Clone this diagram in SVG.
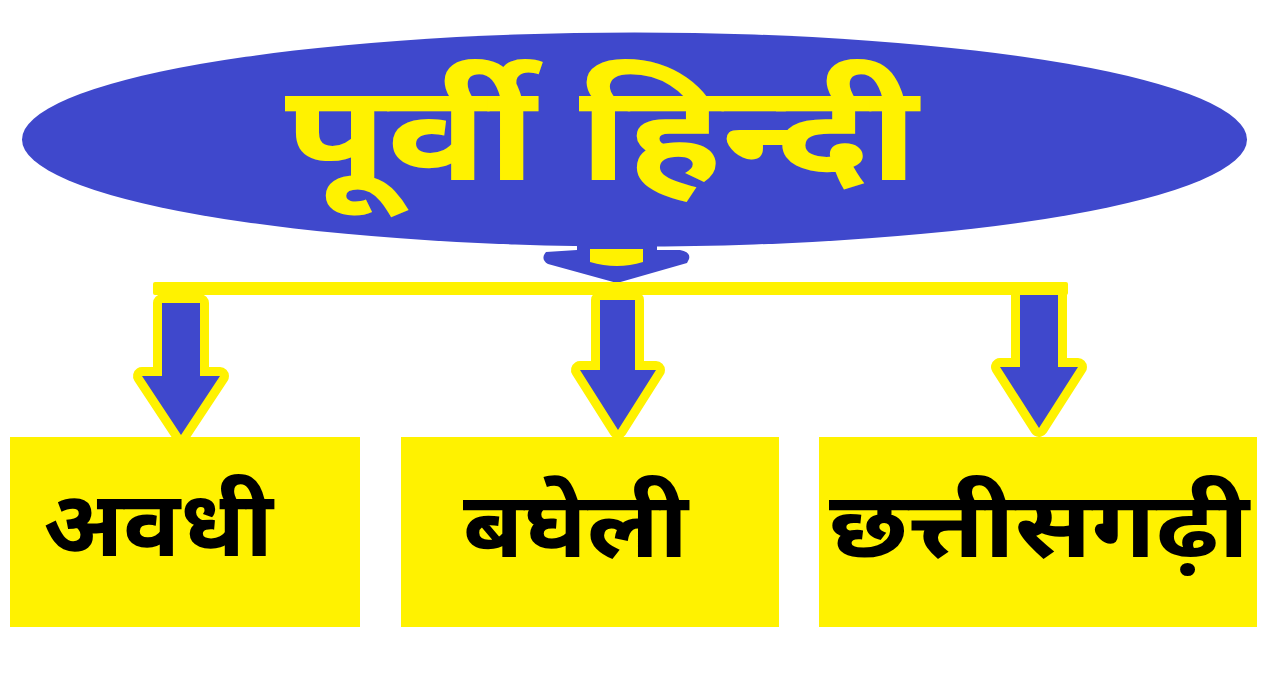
<svg xmlns="http://www.w3.org/2000/svg" width="1268" height="675" viewBox="0 0 1268 675">
<style>
.blue{fill:#3F48CC}
.yel{fill:#FFF200}
.arrow{fill:#3F48CC;stroke:#FFF200;stroke-width:18;stroke-linejoin:round;paint-order:stroke}
.title{font-family:"Noto Sans Devanagari","Noto Serif Devanagari","Lohit Devanagari","Noto Sans",sans-serif;font-weight:bold;fill:#FFF200;font-size:135px}
.lbl{font-family:"Noto Sans Devanagari","Noto Serif Devanagari","Lohit Devanagari","Noto Sans",sans-serif;font-weight:bold;fill:#000;font-size:92px}
</style>
<rect width="1268" height="675" fill="#fff"/>
<g id="root">
<ellipse class="blue" cx="634.5" cy="139.5" rx="612.5" ry="107"/>
<path class="blue" d="M577 244 L657 244 L657 250 L680 250 Q691 252 689 259 L687 263 L617 283 L548 264 Q540 259 546 252 L577 250 Z"/>
<path class="yel" d="M590 249 L643 249 L643 262 Q617 270 590 262 Z"/>
<text class="title" x="285" y="180" textLength="633" lengthAdjust="spacingAndGlyphs">पूर्वी हिन्दी</text>
</g>
<g id="connectors">
<rect class="yel" x="153" y="282" width="915" height="13" rx="2"/>
<polygon class="arrow" points="162,303 200,303 200,376 220,376 181,435 142,376 162,376"/>
<polygon class="arrow" points="600,300 635,300 635,370 656,370 618,430 580,370 600,370"/>
<polygon class="arrow" points="1020,295 1058,295 1058,367 1078,367 1039,428 1000,367 1020,367"/>
</g>
<g id="n1">
<rect class="yel" x="10" y="437" width="350" height="190"/>
<text class="lbl" x="43" y="556" textLength="230" lengthAdjust="spacingAndGlyphs">अवधी</text>
</g>
<g id="n2">
<rect class="yel" x="401" y="437" width="378" height="190"/>
<text class="lbl" x="463" y="557" textLength="225" lengthAdjust="spacingAndGlyphs">बघेली</text>
</g>
<g id="n3">
<rect class="yel" x="819" y="437" width="438" height="190"/>
<text class="lbl" x="829" y="557" textLength="420" lengthAdjust="spacingAndGlyphs">छत्तीसगढ़ी</text>
</g>
</svg>
